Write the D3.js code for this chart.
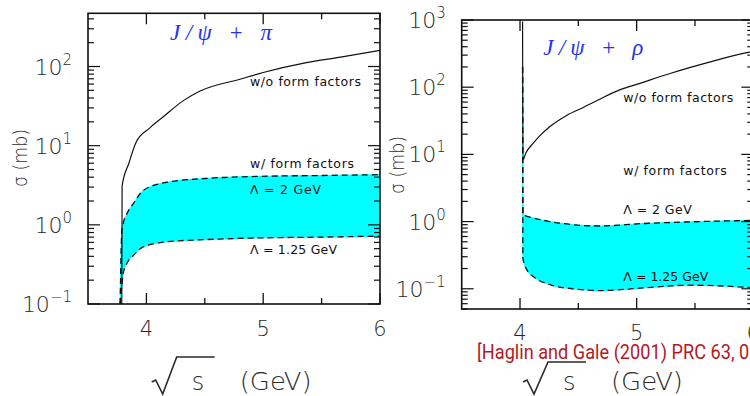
<!DOCTYPE html>
<html>
<head>
<meta charset="utf-8">
<script src="https://cdn.jsdelivr.net/npm/d3@7"></script>
<style>
  html, body { margin: 0; padding: 0; background: #fff; }
  svg { display: block; }
</style>
</head>
<body>
<svg id="chart" width="750" height="396"></svg>
<script>
// ---- J/psi + pi : cross sections vs sqrt(s) (GeV), sigma in mb ----
const piFreeSqrtS  = [3.789, 3.792, 3.85, 3.911, 4.03, 4.15, 4.313, 4.46, 4.8, 5.0, 5.37, 5.7, 6.0];
const piFreeSigma  = [0.1,   3.1,   6.0,  11,    16.8, 23.5, 36.8,  49,   69,  84,  112,  134, 160];

const piFFSqrtS    = [3.775, 3.79, 3.802, 3.83, 3.888, 3.973, 4.174, 4.5,  4.887, 5.5, 6.0];
const piLam2Sigma  = [0.1,   0.85, 1.05,  1.35, 1.85,  2.72,  3.45,  3.85, 4.07,  4.2, 4.3];
const piLam125Sigma= [0.1,   0.17, 0.245, 0.32, 0.41,  0.526, 0.61,  0.65, 0.68,  0.70, 0.72];

// ---- J/psi + rho ----
const rhoFreeSqrtS = [4.022, 4.025, 4.05, 4.114, 4.171, 4.257, 4.4, 4.542, 4.657, 4.86, 5.0, 5.286, 5.6, 5.956, 6.0];
const rhoFreeSigma = [950,   8.3,   10.5, 14.7,  19,    26,    38,  50,    63,    92,   110, 160,   230, 330,   340];

const rhoFFSqrtS    = [4.022, 4.025, 4.06, 4.114, 4.257, 4.45, 4.685, 5.028, 5.456, 5.74, 6.0];
const rhoLam2Sigma  = [200,   1.26,  1.2,  1.13,  1.0,   0.9,  0.86,  0.93,  0.99,  1.02, 1.04];
const rhoLam125Sigma= [200,   0.28,  0.19, 0.152, 0.115, 0.1,  0.094, 0.102, 0.113, 0.11, 0.103];

// ---- axis ticks and labels ----
const xMajorTicks = [4, 5, 6];
const xMinorTicks = [4.5, 5.5];
const xDomain = [3.5, 6];
const curveLabels = ["w/o form factors", "w/ form factors", "\u039B  =  2  GeV", "\u039B  =  1.25  GeV"];

const svg = d3.select("#chart");
const TICK_FONT = "'DejaVu Sans', sans-serif";

const panels = [
  {
    id: "pi", title: "J/\u03C8  +  \u03C0",
    box: {left: 88, right: 380, top: 13.3, bottom: 304},
    yDomain: [0.1, 470],
    free: [piFreeSqrtS, piFreeSigma],
    ff: [piFFSqrtS, piLam2Sigma, piLam125Sigma],
    titlePos: {x: 170, y: 39.5, len: 102},
    labelX: 250, labelY: [85.7, 168.3, 194, 254], labelLen: [111, 104, 71, 87],
    yTitle: {x: 27, y: 158},
    xTitle: {sx: 191.7, by: 390, bar: 33},
    xLabelY: 336
  },
  {
    id: "rho", title: "J/\u03C8  +  \u03C1",
    box: {left: 461.7, right: 753.3, top: 20, bottom: 309},
    yDomain: [0.05, 1000],
    free: [rhoFreeSqrtS, rhoFreeSigma],
    ff: [rhoFFSqrtS, rhoLam2Sigma, rhoLam125Sigma],
    titlePos: {x: 543.3, y: 55, len: 100},
    labelX: 623.3, labelY: [101.7, 175, 214, 280.7], labelLen: [110, 103.4, 68.4, 85],
    yTitle: {x: 404, y: 165},
    xTitle: {sx: 563, by: 390, bar: 28},
    xLabelY: 339.5
  }
];

panels.forEach(p => {
  const b = p.box;
  const x = d3.scaleLinear().domain(xDomain).range([b.left, b.right]);
  const y = d3.scaleLog().domain(p.yDomain).range([b.bottom, b.top]);
  const g = svg.append("g");

  const clipId = "clip-" + p.id;
  svg.append("clipPath").attr("id", clipId)
    .append("rect").attr("x", b.left).attr("y", b.top)
    .attr("width", b.right - b.left).attr("height", b.bottom - b.top);

  const plot = g.append("g").attr("clip-path", `url(#${clipId})`);

  // shaded band between the two form-factor cutoffs
  const [ffS, upper, lower] = p.ff;
  const band = ffS.map((s, i) => ({s, hi: upper[i], lo: lower[i]}));
  plot.append("path").datum(band)
    .attr("d", d3.area().x(d => x(d.s)).y0(d => y(d.lo)).y1(d => y(d.hi)).curve(d3.curveMonotoneX))
    .attr("fill", "#00ffff").attr("stroke", "#00ffff").attr("stroke-width", 1);

  const line = d3.line().x(d => x(d[0])).y(d => y(d[1])).curve(d3.curveMonotoneX);
  [upper, lower].forEach(vals => {
    plot.append("path").datum(ffS.map((s, i) => [s, vals[i]]))
      .attr("d", line).attr("fill", "none")
      .attr("stroke", "#111").attr("stroke-width", 1.3).attr("stroke-dasharray", "6,4");
  });

  const [fs, fv] = p.free;
  plot.append("path").datum(fs.map((s, i) => [s, fv[i]]))
    .attr("d", line).attr("fill", "none").attr("stroke", "#111").attr("stroke-width", 1.2);

  // frame
  g.append("rect").attr("x", b.left).attr("y", b.top)
    .attr("width", b.right - b.left).attr("height", b.bottom - b.top)
    .attr("fill", "none").attr("stroke", "#111").attr("stroke-width", 1.6);

  // x ticks (inward, top and bottom)
  const xt = xMajorTicks.map(v => ({v, len: 11})).concat(xMinorTicks.map(v => ({v, len: 6})));
  xt.forEach(t => {
    g.append("line").attr("x1", x(t.v)).attr("x2", x(t.v))
      .attr("y1", b.bottom).attr("y2", b.bottom - t.len).attr("stroke", "#111").attr("stroke-width", 1.3);
    g.append("line").attr("x1", x(t.v)).attr("x2", x(t.v))
      .attr("y1", b.top).attr("y2", b.top + t.len).attr("stroke", "#111").attr("stroke-width", 1.3);
  });

  // y ticks on a log scale: decades long, 2..9 short
  const [d0, d1] = p.yDomain;
  const e0 = Math.floor(Math.log10(d0)), e1 = Math.ceil(Math.log10(d1));
  const yt = [];
  for (let e = e0; e <= e1; e++) {
    for (let m = 1; m <= 9; m++) {
      const v = m * Math.pow(10, e);
      if (v >= d0 * 0.999 && v <= d1 * 1.001) yt.push({v, major: m === 1, e});
    }
  }
  yt.forEach(t => {
    const len = t.major ? 12 : 6;
    g.append("line").attr("x1", b.left).attr("x2", b.left + len)
      .attr("y1", y(t.v)).attr("y2", y(t.v)).attr("stroke", "#111").attr("stroke-width", 1.2);
    g.append("line").attr("x1", b.right).attr("x2", b.right - len)
      .attr("y1", y(t.v)).attr("y2", y(t.v)).attr("stroke", "#111").attr("stroke-width", 1.2);
  });

  // decade labels 10^n
  yt.filter(t => t.major).forEach(t => {
    const txt = g.append("text").attr("x", b.left - 16).attr("y", y(t.v) + 8)
      .attr("text-anchor", "end").attr("font-family", TICK_FONT).attr("font-weight", 200)
      .attr("fill", "#2a2a2a").attr("font-size", 22);
    txt.append("tspan").text("10");
    txt.append("tspan").attr("dy", -10).attr("font-size", 15)
      .text(t.e < 0 ? "\u2212" + (-t.e) : String(t.e));
  });

  // x tick labels
  xMajorTicks.forEach(v => {
    g.append("text").attr("x", x(v)).attr("y", p.xLabelY)
      .attr("text-anchor", "middle").attr("font-family", TICK_FONT).attr("font-weight", 200)
      .attr("fill", "#2a2a2a").attr("font-size", 21).text(v);
  });

  // reaction title
  g.append("text").attr("x", p.titlePos.x).attr("y", p.titlePos.y)
    .attr("font-family", "'Liberation Serif', 'DejaVu Serif', serif").attr("font-style", "italic")
    .attr("font-size", 23).attr("fill", "#2233ee")
    .attr("textLength", p.titlePos.len).attr("lengthAdjust", "spacing")
    .text(p.title);

  // curve annotations
  curveLabels.forEach((s, i) => {
    g.append("text").attr("x", p.labelX).attr("y", p.labelY[i])
      .attr("font-family", TICK_FONT).attr("font-size", 12.5).attr("fill", "#111")
      .attr("textLength", p.labelLen[i]).attr("lengthAdjust", "spacing")
      .text(s);
  });

  // y-axis title
  g.append("text")
    .attr("transform", `translate(${p.yTitle.x},${p.yTitle.y}) rotate(-90)`)
    .attr("text-anchor", "middle").attr("font-family", TICK_FONT).attr("font-weight", 200)
    .attr("font-size", 19).attr("fill", "#2a2a2a")
    .attr("textLength", 58).attr("lengthAdjust", "spacingAndGlyphs")
    .text("\u03C3  (mb)");

  // x-axis title: radical sign over s, then (GeV)
  const xtg = g.append("g").attr("transform", `translate(${p.xTitle.sx},${p.xTitle.by})`);
  xtg.append("path")
    .attr("d", `M-40,-8 L-36,-10 L-29,4 L-15,-${p.xTitle.bar} L23,-${p.xTitle.bar}`)
    .attr("fill", "none").attr("stroke", "#2a2a2a").attr("stroke-width", 1.6).attr("stroke-linejoin", "miter");
  xtg.append("text").attr("x", 0).attr("y", 0)
    .attr("font-family", TICK_FONT).attr("font-weight", 200).attr("font-size", 24).attr("fill", "#2a2a2a")
    .text("s");
  xtg.append("text").attr("x", 48).attr("y", 0)
    .attr("font-family", TICK_FONT).attr("font-weight", 200).attr("font-size", 24).attr("fill", "#2a2a2a")
    .attr("textLength", 72).attr("lengthAdjust", "spacingAndGlyphs")
    .text("(GeV)");
});

// source reference
svg.append("text").attr("x", 477).attr("y", 358.5)
  .attr("font-family", "'Roboto', sans-serif")
  .attr("font-size", 20).attr("fill", "#b3191f")
  .attr("textLength", 328).attr("lengthAdjust", "spacingAndGlyphs")
  .text("[Haglin and Gale (2001) PRC 63, 065201]");
</script>
</body>
</html>
